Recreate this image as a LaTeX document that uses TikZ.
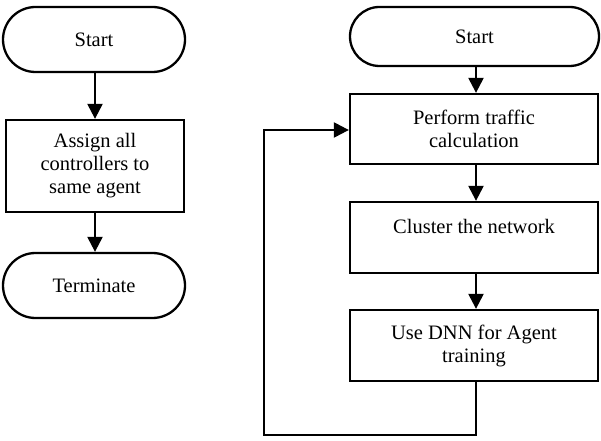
\documentclass[tikz,border=0pt]{standalone}
\usepackage{fontspec}
\setmainfont{Liberation Serif}
\usetikzlibrary{arrows.meta,shapes.misc}
\begin{document}
\begin{tikzpicture}[x=1bp,y=-1bp,
  every node/.style={font=\fontsize{20.5bp}{23bp}\selectfont, inner sep=0pt, align=center},
  flow/.style={line width=2.3bp},
  term/.style={flow, draw, rounded rectangle, minimum width=182bp, minimum height=65bp},
  stepbox/.style={flow, draw, rectangle, minimum width=248bp, minimum height=71bp},
  link/.style={flow, -{Triangle[width=15bp,length=15bp]}}
]
\useasboundingbox (0,0) rectangle (601,441);

% left flow
\node[term] (startL) at (94,39.5) {Start};
\node[stepbox, minimum width=178bp, minimum height=92bp] (assign) at (95,166)
  {Assign all\\controllers to\\same agent};
\node[term] (stop) at (94,285.5) {Terminate};
\draw[link] (startL.south -| assign.north) -- (assign.north);
\draw[link] (assign.south) -- (stop.north -| assign.south);

% right flow
\node[term, minimum width=249bp, minimum height=59bp] (startR) at (474.5,36.5) {Start};
\node[stepbox, minimum height=70bp] (perf) at (474,129) {Perform traffic\\calculation};
\node[stepbox] (clus) at (474,237.5) {Cluster the network\\\mbox{}};
\node[stepbox] (dnn) at (474,345.5) {Use DNN for Agent\\training};
\draw[link] (startR.south -| 476,0) -- (perf.north -| 476,0);
\draw[link] (perf.south -| 476,0) -- (clus.north -| 476,0);
\draw[link] (clus.south -| 476,0) -- (dnn.north -| 476,0);

% feedback loop
\coordinate (loopA) at (476,435);
\coordinate (loopB) at (264,435);
\coordinate (loopC) at (264,130);
\draw[link, line join=miter] (dnn.south -| loopA) -- (loopA) -- (loopB) -- (loopC) -- (perf.west |- loopC);
\end{tikzpicture}
\end{document}
